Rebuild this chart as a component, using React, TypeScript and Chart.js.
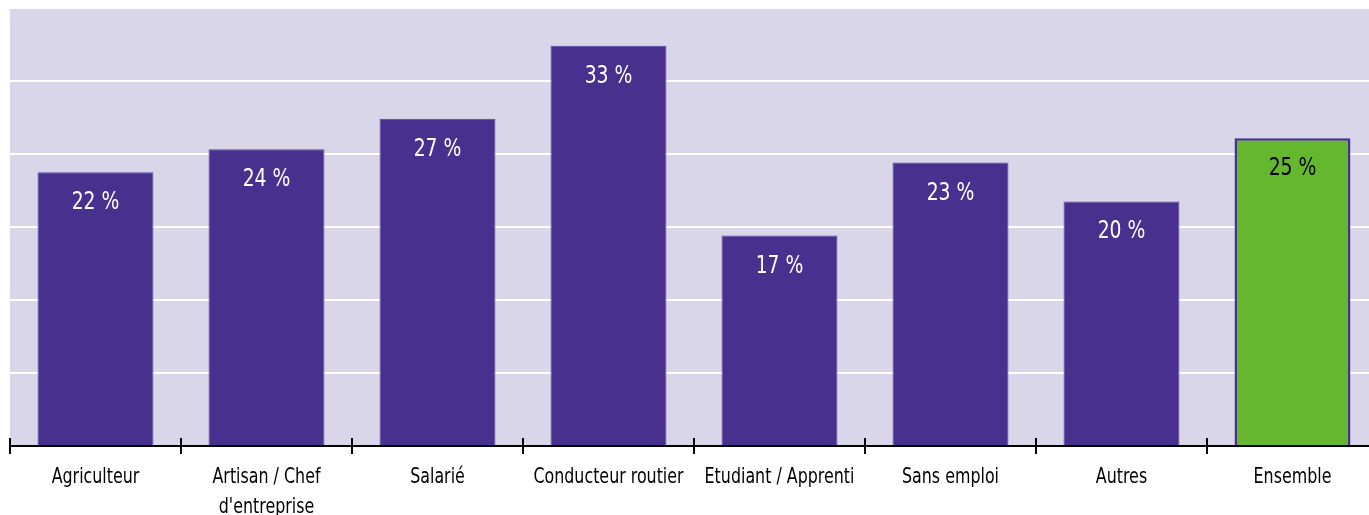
import React, { useEffect, useRef } from "react";
import { Chart, registerables } from "chart.js";

Chart.register(...registerables);

const categories: string[][] = [
  ["Agriculteur"],
  ["Artisan / Chef", "d'entreprise"],
  ["Salarié"],
  ["Conducteur routier"],
  ["Etudiant / Apprenti"],
  ["Sans emploi"],
  ["Autres"],
  ["Ensemble"],
];
const values = [22.5, 24.4, 26.9, 32.9, 17.3, 23.3, 20.1, 25.3];
const valueLabels = ["22 %", "24 %", "27 %", "33 %", "17 %", "23 %", "20 %", "25 %"];
const yTicks = [0, 6, 12, 18, 24, 30, 36];

const PURPLE = "#48308e";
const GREEN = "#65b72d";
const BG = "#d9d6e9";
const FONT = "'Liberation Sans Narrow', 'DejaVu Sans Condensed', sans-serif";

function condensedText(ctx: CanvasRenderingContext2D, text: string, x: number, y: number, sx: number) {
  ctx.save();
  ctx.translate(x, y);
  ctx.scale(sx, 1);
  ctx.fillText(text, 0, 0);
  ctx.restore();
}

const bgPlugin = {
  id: "bgPlugin",
  afterLayout(chart: any) {
    // the last category extends slightly past the canvas edge, as in the reference
    const x = chart.scales.x;
    const extra = 9;
    x.right = x.right + extra;
    x.width = x.right - x.left;
    chart.chartArea.right = chart.chartArea.right + extra;
    chart.chartArea.width = chart.chartArea.right - chart.chartArea.left;
    x.configure();
  },
  beforeDraw(chart: any) {
    const { ctx, chartArea } = chart;
    ctx.save();
    ctx.fillStyle = BG;
    ctx.fillRect(chartArea.left, chartArea.top, chartArea.right - chartArea.left, chartArea.bottom - chartArea.top);
    ctx.restore();
  },
  afterDatasetsDraw(chart: any) {
    const { ctx, chartArea } = chart;
    const x = chart.scales.x;
    const n = categories.length;
    ctx.save();
    // axis line
    ctx.strokeStyle = "#000";
    ctx.lineWidth = 2;
    ctx.beginPath();
    ctx.moveTo(chartArea.left, chartArea.bottom);
    ctx.lineTo(chartArea.right, chartArea.bottom);
    ctx.stroke();
    // tick marks at category boundaries
    const step = (x.right - x.left) / n;
    for (let i = 0; i < n; i++) {
      const px = Math.round(x.getPixelForValue(i) - step / 2);
      ctx.beginPath();
      ctx.moveTo(px, chartArea.bottom - 8);
      ctx.lineTo(px, chartArea.bottom + 8);
      ctx.stroke();
    }
    // category labels
    ctx.fillStyle = "#000";
    ctx.font = `21px ${FONT}`;
    ctx.textAlign = "center";
    ctx.textBaseline = "alphabetic";
    categories.forEach((lines, i) => {
      const cx = x.getPixelForValue(i);
      lines.forEach((line, j) => {
        condensedText(ctx, line, cx, chartArea.bottom + 37 + j * 30, 0.84);
      });
    });
    // value labels
    const meta = chart.getDatasetMeta(0);
    ctx.font = `24px ${FONT}`;
    meta.data.forEach((bar: any, i: number) => {
      ctx.fillStyle = i === n - 1 ? "#000" : "#fff";
      condensedText(ctx, valueLabels[i], bar.x, bar.y + 37, 0.87);
    });
    ctx.restore();
  },
};

export default function App() {
  const ref = useRef<HTMLCanvasElement | null>(null);
  useEffect(() => {
    document.body.style.margin = "0";
    if (!ref.current) return;
    const n = categories.length;
    const chart = new Chart(ref.current, {
      type: "bar",
      data: {
        labels: categories.map((c) => c.join(" ")),
        datasets: [
          {
            data: values,
            backgroundColor: values.map((_, i) => (i === n - 1 ? GREEN : PURPLE)),
            borderColor: values.map((_, i) => (i === n - 1 ? PURPLE : "#5744a0")),
            borderWidth: values.map((_, i) => (i === n - 1 ? 2.5 : 1)),
            barPercentage: 0.678,
            categoryPercentage: 1,
          },
        ],
      },
      options: {
        animation: false,
        responsive: false,
        maintainAspectRatio: false,
        layout: { padding: { left: 10, top: 8, right: 0, bottom: 0 } },
        plugins: { legend: { display: false }, tooltip: { enabled: false } },
        scales: {
          x: {
            grid: { display: false, drawTicks: false },
            border: { display: false },
            ticks: { display: false },
            afterFit(scale: any) {
              scale.height = 69;
            },
          },
          y: {
            min: 0,
            max: 36,
            afterBuildTicks(scale: any) {
              scale.ticks = yTicks.map((v) => ({ value: v }));
            },
            grid: { color: "#ffffff", lineWidth: 2, drawTicks: false },
            border: { display: false },
            ticks: { display: false },
            afterFit(scale: any) {
              scale.width = 0;
            },
          },
        },
      } as any,
      plugins: [bgPlugin],
    });
    return () => chart.destroy();
  }, []);
  return <canvas ref={ref} width={1369} height={515} style={{ display: "block" }} />;
}
